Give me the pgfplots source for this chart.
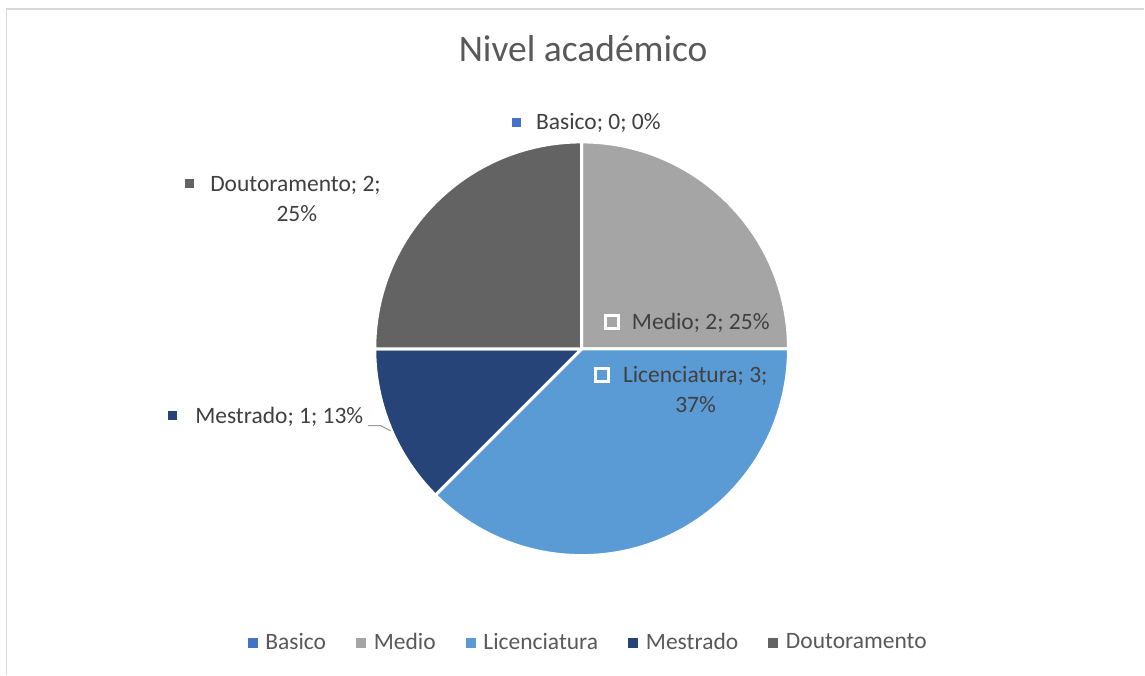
\documentclass[border=0pt]{standalone}
\usepackage{pgfplots}
\usepackage{pgfplotstable}
\usepackage{fontspec}
\pgfplotsset{compat=1.18}
\setmainfont{Carlito}
\definecolor{cBasico}{HTML}{4472C4}
\definecolor{cMedio}{HTML}{A5A5A5}
\definecolor{cLic}{HTML}{5B9BD5}
\definecolor{cMest}{HTML}{264478}
\definecolor{cDout}{HTML}{636363}
\definecolor{lbltext}{HTML}{404040}
\definecolor{titletext}{HTML}{595959}
\definecolor{frame}{HTML}{D9D9D9}

% nivel academico: contagem por categoria
\pgfplotstableread{
label        value color
Basico       0     cBasico
Medio        2     cMedio
Licenciatura 3     cLic
Mestrado     1     cMest
Doutoramento 2     cDout
}\piedata

\newcommand\lblfont{\fontsize{11.75}{14}\selectfont}

\begin{document}
\begin{tikzpicture}
\begin{axis}[
    width=572.5pt, height=337.5pt,
    scale only axis,
    xmin=0, xmax=1145, ymin=0, ymax=675,
    y dir=reverse,
    hide axis,
    clip=false,
    legend columns=5,
    legend style={at={(axis cs:588.5,643)}, anchor=center, draw=none, fill=none,
        font=\lblfont, text=titletext,
        /tikz/every odd column/.append style={column sep=3pt},
        /tikz/every even column/.append style={column sep=14pt},
        nodes={inner sep=1pt}},
    legend image code/.code={\fill[#1] (0pt,-2.25pt) rectangle (4.5pt,2.25pt);},
]
\path[fill=white] (axis cs:0,0) rectangle (axis cs:1145,675);
\draw[frame, line width=0.75pt] (axis cs:1145,9) -- (axis cs:6.5,9) -- (axis cs:6.5,675);

% sectores da tarte a partir da tabela
\pgfplotsextra{%
  \gdef\pietotal{0}%
  \pgfplotstableforeachcolumnelement{value}\of\piedata\as\v{%
    \pgfmathsetmacro\t{\pietotal+\v}\xdef\pietotal{\t}}%
  \gdef\cum{0}%
  \pgfplotstableforeachcolumnelement{value}\of\piedata\as\v{%
    \pgfmathsetmacro\aS{90-360*\cum/\pietotal}%
    \pgfmathsetmacro\aE{90-360*(\cum+\v)/\pietotal}%
    \pgfplotstablegetelem{\pgfplotstablerow}{color}\of\piedata
    \edef\col{\pgfplotsretval}%
    \fill[\col, draw=white, line width=1.5pt, line join=round]
      (axis cs:582,349) -- ++(\aS:103.5pt) arc[start angle=\aS, end angle=\aE, radius=103.5pt] -- cycle;
    \pgfmathsetmacro\t{\cum+\v}\xdef\cum{\t}%
  }%
}

% titulo
\node[anchor=base, inner sep=0, text=titletext, font=\fontsize{18.75}{22}\selectfont] at (axis cs:583.5,62) {Nivel académico};

% rotulos de dados
\fill[cBasico] (axis cs:512,118) rectangle (axis cs:521,127);
\node[anchor=base west, inner sep=0, text=lbltext, font=\lblfont] at (axis cs:536,130) {Basico; 0; 0\%};

\fill[cDout] (axis cs:185,179.5) rectangle (axis cs:194,188.5);
\node[anchor=base west, inner sep=0, text=lbltext, font=\lblfont] at (axis cs:210,192) {Doutoramento; 2;};
\node[anchor=base, inner sep=0, text=lbltext, font=\lblfont] at (axis cs:297,222) {25\%};

\filldraw[cMedio, draw=white, line width=1.5pt] (axis cs:606,316) rectangle (axis cs:619,329);
\node[anchor=base west, inner sep=0, text=lbltext, font=\lblfont] at (axis cs:632,330) {Medio; 2; 25\%};

\filldraw[cLic, draw=white, line width=1.5pt] (axis cs:596,369) rectangle (axis cs:609,382);
\node[anchor=base west, inner sep=0, text=lbltext, font=\lblfont] at (axis cs:623,383) {Licenciatura; 3;};
\node[anchor=base, inner sep=0, text=lbltext, font=\lblfont] at (axis cs:696,413) {37\%};

\fill[cMest] (axis cs:168,411.5) rectangle (axis cs:177,420.5);
\node[anchor=base west, inner sep=0, text=lbltext, font=\lblfont] at (axis cs:195,424) {Mestrado; 1; 13\%};
\draw[black!40, line width=0.5pt] (axis cs:368,426) -- (axis cs:381,426) -- (axis cs:391,431);

% legenda
\addlegendimage{cBasico}\addlegendentry{Basico}
\addlegendimage{cMedio}\addlegendentry{Medio}
\addlegendimage{cLic}\addlegendentry{Licenciatura}
\addlegendimage{cMest}\addlegendentry{Mestrado}
\addlegendimage{cDout}\addlegendentry{Doutoramento}
\end{axis}
\end{tikzpicture}
\end{document}
